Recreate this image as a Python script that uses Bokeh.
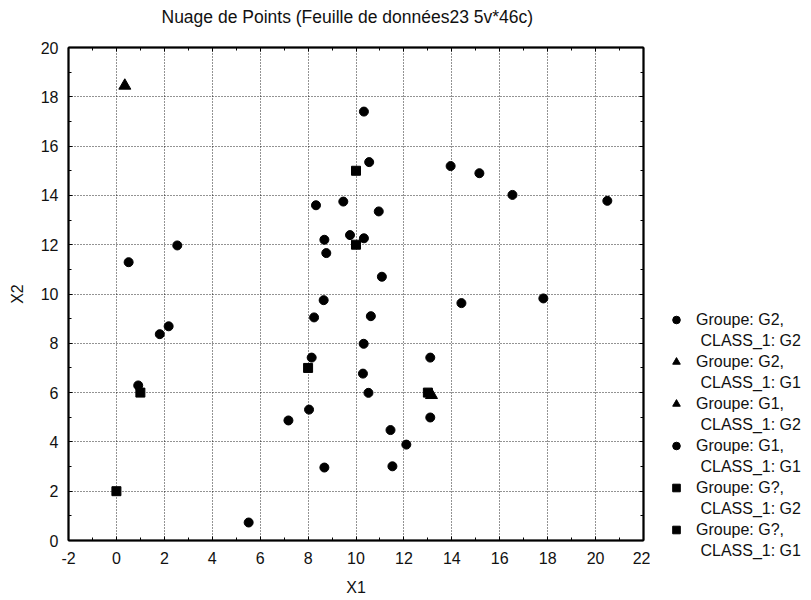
from bokeh.plotting import figure
from bokeh.models import (Legend, LegendItem, LinearAxis, FixedTicker,
                          CustomJSTickFormatter, Title)
from bokeh.layouts import row
from bokeh.embed import file_html
from bokeh.resources import INLINE

# ---- data ----
# Groupe: G2, CLASS_1: G2 (circles)
g2_g2_x = [10.33, 10.55, 8.33, 9.47, 10.95, 9.75, 10.33, 8.68, 8.76, 11.08,
           8.65, 10.62, 13.95, 15.15, 16.53, 20.49, 14.40, 17.82, 13.10]
g2_g2_y = [17.40, 15.35, 13.60, 13.75, 13.35, 12.39, 12.26, 12.20, 11.66, 10.70,
           9.75, 9.10, 15.19, 14.90, 14.02, 13.78, 9.63, 9.82, 7.42]
# Groupe: G2, CLASS_1: G1 (triangle)
g2_g1_x = [0.35]
g2_g1_y = [18.45]
# Groupe: G1, CLASS_1: G2 (triangle)
g1_g2_x = [13.15]
g1_g2_y = [5.90]
# Groupe: G1, CLASS_1: G1 (circles)
g1_g1_x = [2.54, 0.51, 8.25, 2.18, 1.81, 0.91, 5.52, 8.15, 8.04, 7.18,
           8.68, 10.32, 10.29, 10.52, 11.44, 11.52, 12.10, 13.10]
g1_g1_y = [11.97, 11.29, 9.05, 8.69, 8.37, 6.29, 0.73, 7.42, 5.31, 4.87,
           2.96, 7.98, 6.77, 5.99, 4.48, 3.01, 3.89, 4.99]
# Groupe: G?, CLASS_1: G2 (squares)
gq_g2_x = [10.0, 10.0, 13.0]
gq_g2_y = [15.0, 12.0, 6.0]
# Groupe: G?, CLASS_1: G1 (squares)
gq_g1_x = [0.0, 1.0, 8.0]
gq_g1_y = [2.0, 6.0, 7.0]

x_ticks = [-2, 0, 2, 4, 6, 8, 10, 12, 14, 16, 18, 20, 22]
x_minor = [-1, 1, 3, 5, 7, 9, 11, 13, 15, 17, 19, 21]
y_ticks = [0, 2, 4, 6, 8, 10, 12, 14, 16, 18, 20]
y_minor = [1, 3, 5, 7, 9, 11, 13, 15, 17, 19]

series = [
    (g2_g2_x, g2_g2_y, "circle", 9),
    (g2_g1_x, g2_g1_y, "triangle", 12),
    (g1_g2_x, g1_g2_y, "triangle", 12),
    (g1_g1_x, g1_g1_y, "circle", 9),
    (gq_g2_x, gq_g2_y, "square", 9),
    (gq_g1_x, gq_g1_y, "square", 9),
]
legend_labels = [
    ("Groupe: G2,", "\u00a0CLASS_1: G2"),
    ("Groupe: G2,", "\u00a0CLASS_1: G1"),
    ("Groupe: G1,", "\u00a0CLASS_1: G2"),
    ("Groupe: G1,", "\u00a0CLASS_1: G1"),
    ("Groupe: G?,", "\u00a0CLASS_1: G2"),
    ("Groupe: G?,", "\u00a0CLASS_1: G1"),
]

FONT = "Liberation Sans"

p = figure(width=650, height=600, x_range=(-2, 22), y_range=(0, 20),
           output_backend="svg", toolbar_location=None,
           min_border_left=68, min_border_right=7,
           min_border_top=47, min_border_bottom=60,
           x_axis_label="X1", y_axis_label="X2")
p.frame_align = False
p.background_fill_color = "white"
p.border_fill_color = "white"
p.outline_line_color = "black"
p.outline_line_width = 1.5

p.title = Title(text="Nuage de Points (Feuille de données23 5v*46c)",
                text_font=FONT, text_font_size="17.5px", text_font_style="normal",
                align="left", offset=93, standoff=1, text_color="#111111")

xt = FixedTicker(ticks=x_ticks, minor_ticks=x_minor)
yt = FixedTicker(ticks=y_ticks, minor_ticks=y_minor)
num_fmt = CustomJSTickFormatter(code="return tick.toFixed(0)")


def style_axis(ax, ticker):
    ax.ticker = ticker
    ax.axis_line_color = "black"
    ax.axis_line_width = 2
    ax.major_tick_in = 4
    ax.major_tick_out = 0
    ax.minor_tick_in = 3
    ax.minor_tick_out = 0
    ax.major_tick_line_color = "black"
    ax.minor_tick_line_color = "black"
    ax.major_label_text_font = FONT
    ax.major_label_text_font_size = "16px"
    ax.major_label_text_color = "#111111"
    ax.axis_label_text_font = FONT
    ax.axis_label_text_font_size = "16px"
    ax.axis_label_text_font_style = "normal"
    ax.axis_label_text_color = "#111111"


style_axis(p.xaxis[0], xt)
style_axis(p.yaxis[0], yt)
p.xaxis[0].formatter = num_fmt
p.yaxis[0].formatter = num_fmt
p.xaxis[0].major_label_standoff = 11
p.xaxis[0].axis_label_standoff = 12
p.yaxis[0].major_label_standoff = 10
p.yaxis[0].axis_label_standoff = 12

blank = CustomJSTickFormatter(code="return ''")
top_ax = LinearAxis(formatter=blank)
right_ax = LinearAxis(formatter=blank)
style_axis(top_ax, xt)
style_axis(right_ax, yt)
top_ax.major_label_standoff = 0
top_ax.axis_label = "\u00a0"
top_ax.axis_label_standoff = 0
right_ax.major_label_standoff = 0
p.add_layout(top_ax, "above")
p.add_layout(right_ax, "right")

p.xgrid.ticker = xt
p.ygrid.ticker = yt
for g in (p.xgrid[0], p.ygrid[0]):
    g.grid_line_color = "black"
    g.grid_line_alpha = 0.85
    g.grid_line_dash = "1 2"
    g.grid_line_width = 1

for sx, sy, m, s in series:
    p.scatter(sx, sy, marker=m, size=s, color="black")

# ---- legend panel (separate figure to the right of the plot) ----
# its ranges lie far from the data, so its renderers only feed the legend
lf = figure(width=161, height=600, x_range=(-100, -99), y_range=(-100, -99),
            output_backend="svg", toolbar_location=None,
            x_axis_type=None, y_axis_type=None,
            min_border_left=0, min_border_right=0,
            min_border_top=0, min_border_bottom=0)
lf.frame_align = False
lf.outline_line_color = None
lf.grid.visible = False
lf.background_fill_color = "white"
lf.border_fill_color = "white"

items = []
for (sx, sy, m, s), (l1, l2) in zip(series, legend_labels):
    r = lf.scatter(sx, sy, marker=m, size=s, color="black")
    blank_r = lf.scatter(sx, sy, marker=m, size=s, alpha=0)
    items.append(LegendItem(label=l1, renderers=[r]))
    items.append(LegendItem(label=l2, renderers=[blank_r]))

legend = Legend(items=items, location=(16, 40))
legend.border_line_alpha = 0
legend.background_fill_alpha = 0
legend.padding = 0
legend.margin = 0
legend.spacing = 2
legend.glyph_width = 20
legend.glyph_height = 19
legend.label_height = 19
legend.label_standoff = 10
legend.label_text_font = FONT
legend.label_text_font_size = "16px"
legend.label_text_color = "#111111"
lf.add_layout(legend, "center")

layout = row(p, lf)
open("out.html", "w").write(file_html(layout, INLINE))
